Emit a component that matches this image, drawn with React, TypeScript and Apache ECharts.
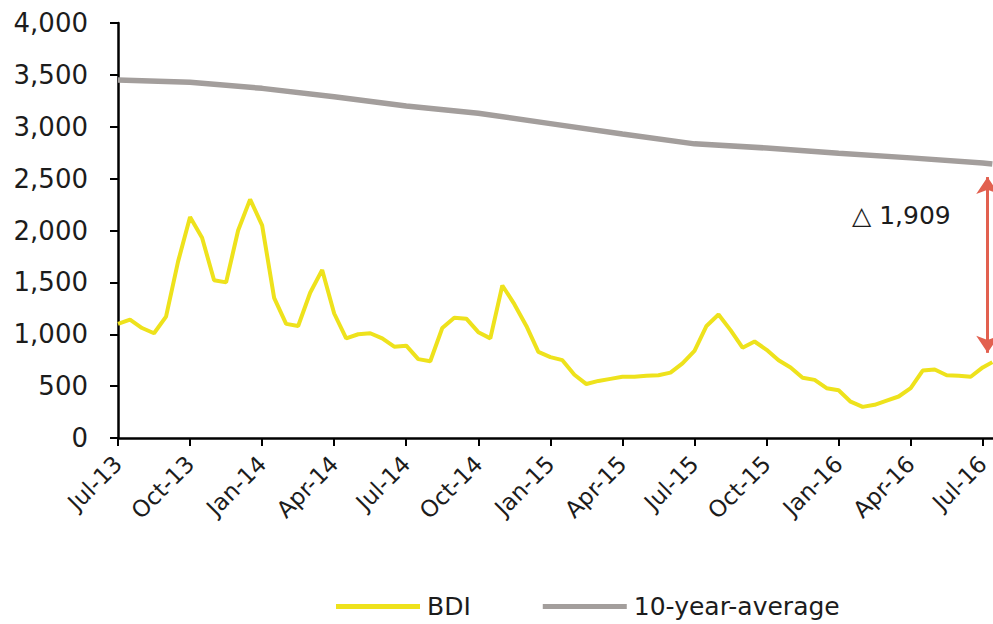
import React, { useEffect, useRef } from "react";
import * as echarts from "echarts";

// Quarter tick labels, one every 3 months starting Jul-13
const TICK_LABELS = [
  "Jul-13", "Oct-13", "Jan-14", "Apr-14", "Jul-14", "Oct-14", "Jan-15",
  "Apr-15", "Jul-15", "Oct-15", "Jan-16", "Apr-16", "Jul-16",
];

// Baltic Dry Index, sampled every half month from Jul-13 (month 0)
const BDI_STEP = 0.5;
const BDI_VALUES = [
  1100, 1140, 1060, 1010, 1170, 1700, 2130, 1930, 1520, 1500,
  2000, 2300, 2050, 1350, 1100, 1080, 1400, 1620, 1200, 960,
  1000, 1010, 960, 880, 890, 760, 740, 1060, 1160, 1150,
  1020, 960, 1470, 1290, 1080, 830, 780, 750, 610, 520,
  550, 570, 590, 590, 600, 605, 630, 720, 840, 1080,
  1190, 1040, 870, 930, 850, 750, 680, 580, 560, 480,
  460, 350, 300, 320, 360, 400, 480, 650, 660, 605,
  600, 590, 680,
];

// 10-year average of the index (months since Jul-13)
const AVG_MONTHS = [0, 3, 6, 9, 12, 15, 18, 21, 24, 27, 30, 33, 36, 36.4];
const AVG_VALUES = [3450, 3430, 3370, 3290, 3200, 3130, 3030, 2930, 2835, 2795, 2745, 2700, 2650, 2640];

// Latest reading
const LATEST_MONTH = 36.4;
const LATEST_BDI = 731;

const FONT = "DejaVu Sans";
const TEXT_COLOR = "#1c1c1c";

export default function App() {
  const ref = useRef<HTMLDivElement>(null);

  useEffect(() => {
    document.body.style.margin = "0";
    if (!ref.current) return;
    const chart = echarts.init(ref.current, null, { renderer: "svg" });

    const bdiData = BDI_VALUES.map((v, i) => [i * BDI_STEP, v]);
    bdiData.push([LATEST_MONTH, LATEST_BDI]);
    const avgData = AVG_MONTHS.map((m, i) => [m, AVG_VALUES[i]]);

    const avgEnd = AVG_VALUES[AVG_VALUES.length - 1];
    const delta = avgEnd - LATEST_BDI;
    const arrowX = 36.2;

    chart.setOption({
      animation: false,
      backgroundColor: "#ffffff",
      grid: { left: 118, right: 0, top: 23, bottom: 186 },
      xAxis: {
        type: "value",
        min: 0,
        max: LATEST_MONTH,
        interval: 3,
        axisLine: { show: true, onZero: false, lineStyle: { color: "#000", width: 2.5 } },
        axisTick: { show: true, length: 8, lineStyle: { color: "#000", width: 2 } },
        splitLine: { show: false },
        axisLabel: {
          rotate: 45,
          margin: 22,
          fontFamily: FONT,
          fontSize: 23,
          color: TEXT_COLOR,
          showMaxLabel: false,
          formatter: (v: number) => {
            const q = Math.round(v / 3);
            return Math.abs(q * 3 - v) < 1e-6 ? TICK_LABELS[q] ?? "" : "";
          },
        },
      },
      yAxis: {
        type: "value",
        min: 0,
        max: 4000,
        interval: 500,
        axisLine: { show: true, lineStyle: { color: "#000", width: 2.5 } },
        axisTick: { show: true, length: 8, lineStyle: { color: "#000", width: 2 } },
        splitLine: { show: false },
        axisLabel: {
          margin: 30,
          fontFamily: FONT,
          fontSize: 26,
          color: TEXT_COLOR,
          formatter: (v: number) => v.toLocaleString("en-US"),
        },
      },
      legend: {
        left: 331,
        top: 589,
        itemWidth: 84,
        itemHeight: 5,
        itemGap: 72,
        icon: "rect",
        textStyle: { fontFamily: FONT, fontSize: 25, color: TEXT_COLOR, padding: [0, 0, 0, 2] },
        data: ["BDI", "10-year-average"],
      },
      series: [
        {
          name: "BDI",
          type: "line",
          data: bdiData,
          showSymbol: false,
          symbol: "none",
          color: "#eee21c",
          lineStyle: { color: "#eee21c", width: 4 },
          z: 3,
        },
        {
          name: "10-year-average",
          type: "line",
          data: avgData,
          showSymbol: false,
          symbol: "none",
          color: "#a39e9c",
          lineStyle: { color: "#a39e9c", width: 5.5 },
          z: 2,
          markLine: {
            silent: true,
            symbol: ["arrow", "arrow"],
            symbolSize: [17, 17],
            label: { show: false },
            lineStyle: { color: "#e2604f", width: 3, type: "solid" },
            data: [
              [
                { coord: [arrowX, avgEnd - 125] },
                { coord: [arrowX, avgEnd - delta + 90] },
              ],
            ],
          },
        },
      ],
      graphic: [
        {
          type: "text",
          left: 852,
          top: 203,
          style: {
            text: "\u25B3 " + delta.toLocaleString("en-US"),
            fontFamily: FONT,
            fontSize: 25,
            fill: TEXT_COLOR,
          },
        },
      ],
    });

    return () => chart.dispose();
  }, []);

  return <div ref={ref} style={{ width: 993, height: 624 }} />;
}
